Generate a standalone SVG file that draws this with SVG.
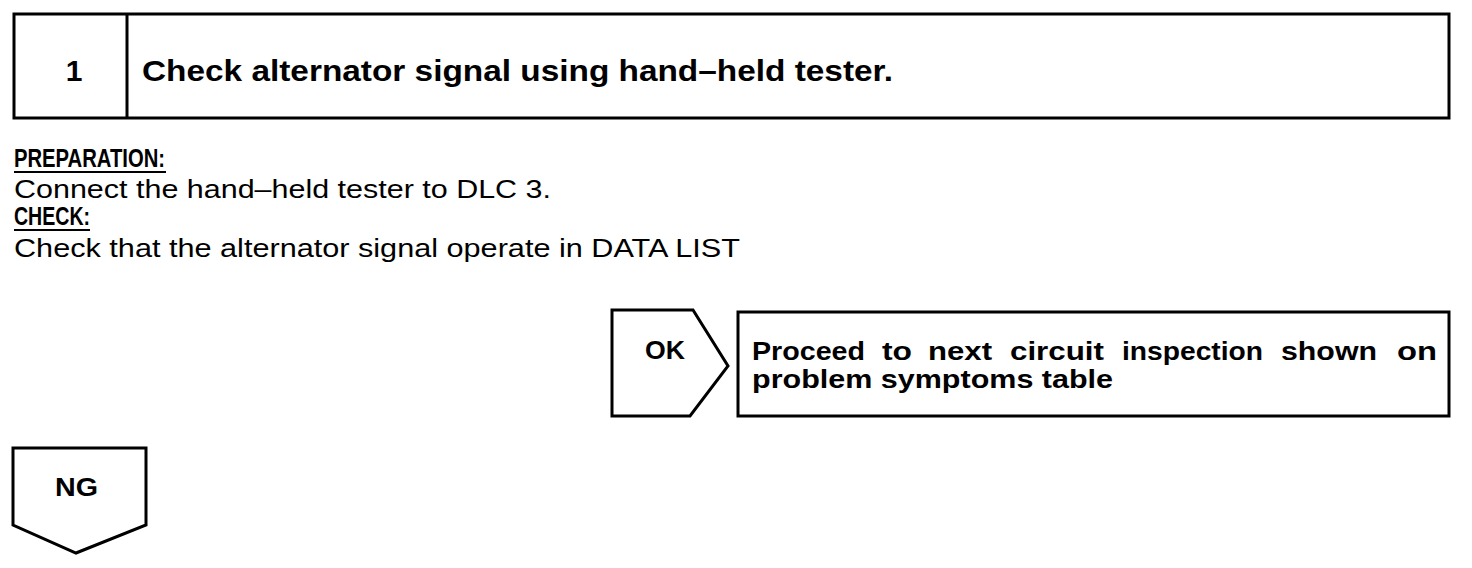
<svg xmlns="http://www.w3.org/2000/svg" width="1472" height="568" viewBox="0 0 1472 568">
<style>
.box{fill:#fff;stroke:#000;stroke-width:3}
.t{font-family:"Liberation Sans",Arial,sans-serif;fill:#000}
.b{font-weight:bold}
.w{font-family:"Liberation Sans",Arial,sans-serif;font-weight:bold;font-size:26px;fill:#000}
</style>
<rect width="1472" height="568" fill="#fff"/>
<g id="step1">
<rect class="box" x="14" y="14" width="1435" height="104"/>
<line x1="127" y1="14" x2="127" y2="118" stroke="#000" stroke-width="3"/>
<text class="t b" x="74" y="81" font-size="30" text-anchor="middle">1</text>
<text class="t b" x="142" y="81" font-size="30" textLength="751" lengthAdjust="spacingAndGlyphs">Check alternator signal using hand–held tester.</text>
</g>
<g id="instructions">
<text class="t b" x="14" y="167" font-size="26" textLength="151" lengthAdjust="spacingAndGlyphs">PREPARATION:</text>
<line x1="14" y1="172" x2="166" y2="172" stroke="#000" stroke-width="2"/>
<text class="t" x="14" y="198" font-size="26" textLength="537" lengthAdjust="spacingAndGlyphs">Connect the hand–held tester to DLC 3.</text>
<text class="t b" x="14" y="225" font-size="26" textLength="76" lengthAdjust="spacingAndGlyphs">CHECK:</text>
<line x1="14" y1="230" x2="90" y2="230" stroke="#000" stroke-width="2"/>
<text class="t" x="14" y="257" font-size="26" textLength="726" lengthAdjust="spacingAndGlyphs">Check that the alternator signal operate in DATA LIST</text>
</g>
<g id="ok">
<polygon class="box" points="612,310 693,310 728,366 690,416 612,416"/>
<text class="t b" x="665" y="359" font-size="26" text-anchor="middle" textLength="40" lengthAdjust="spacingAndGlyphs">OK</text>
</g>
<g id="proceed">
<rect class="box" x="738" y="312" width="711" height="104"/>
<text class="w" y="360"><tspan x="752" textLength="113" lengthAdjust="spacingAndGlyphs">Proceed</tspan><tspan x="882" textLength="30" lengthAdjust="spacingAndGlyphs">to</tspan><tspan x="928" textLength="64" lengthAdjust="spacingAndGlyphs">next</tspan><tspan x="1010" textLength="94" lengthAdjust="spacingAndGlyphs">circuit</tspan><tspan x="1122" textLength="141" lengthAdjust="spacingAndGlyphs">inspection</tspan><tspan x="1281" textLength="96" lengthAdjust="spacingAndGlyphs">shown</tspan><tspan x="1397" textLength="40" lengthAdjust="spacingAndGlyphs">on</tspan></text>
<text class="w" x="752" y="388" textLength="361" lengthAdjust="spacingAndGlyphs">problem symptoms table</text>
</g>
<g id="ng">
<polygon class="box" points="13,448 146,448 146,525 76,553 13,525"/>
<text class="t b" x="55" y="496" font-size="26" textLength="43" lengthAdjust="spacingAndGlyphs">NG</text>
</g>
<g id="connectors"></g>
</svg>
